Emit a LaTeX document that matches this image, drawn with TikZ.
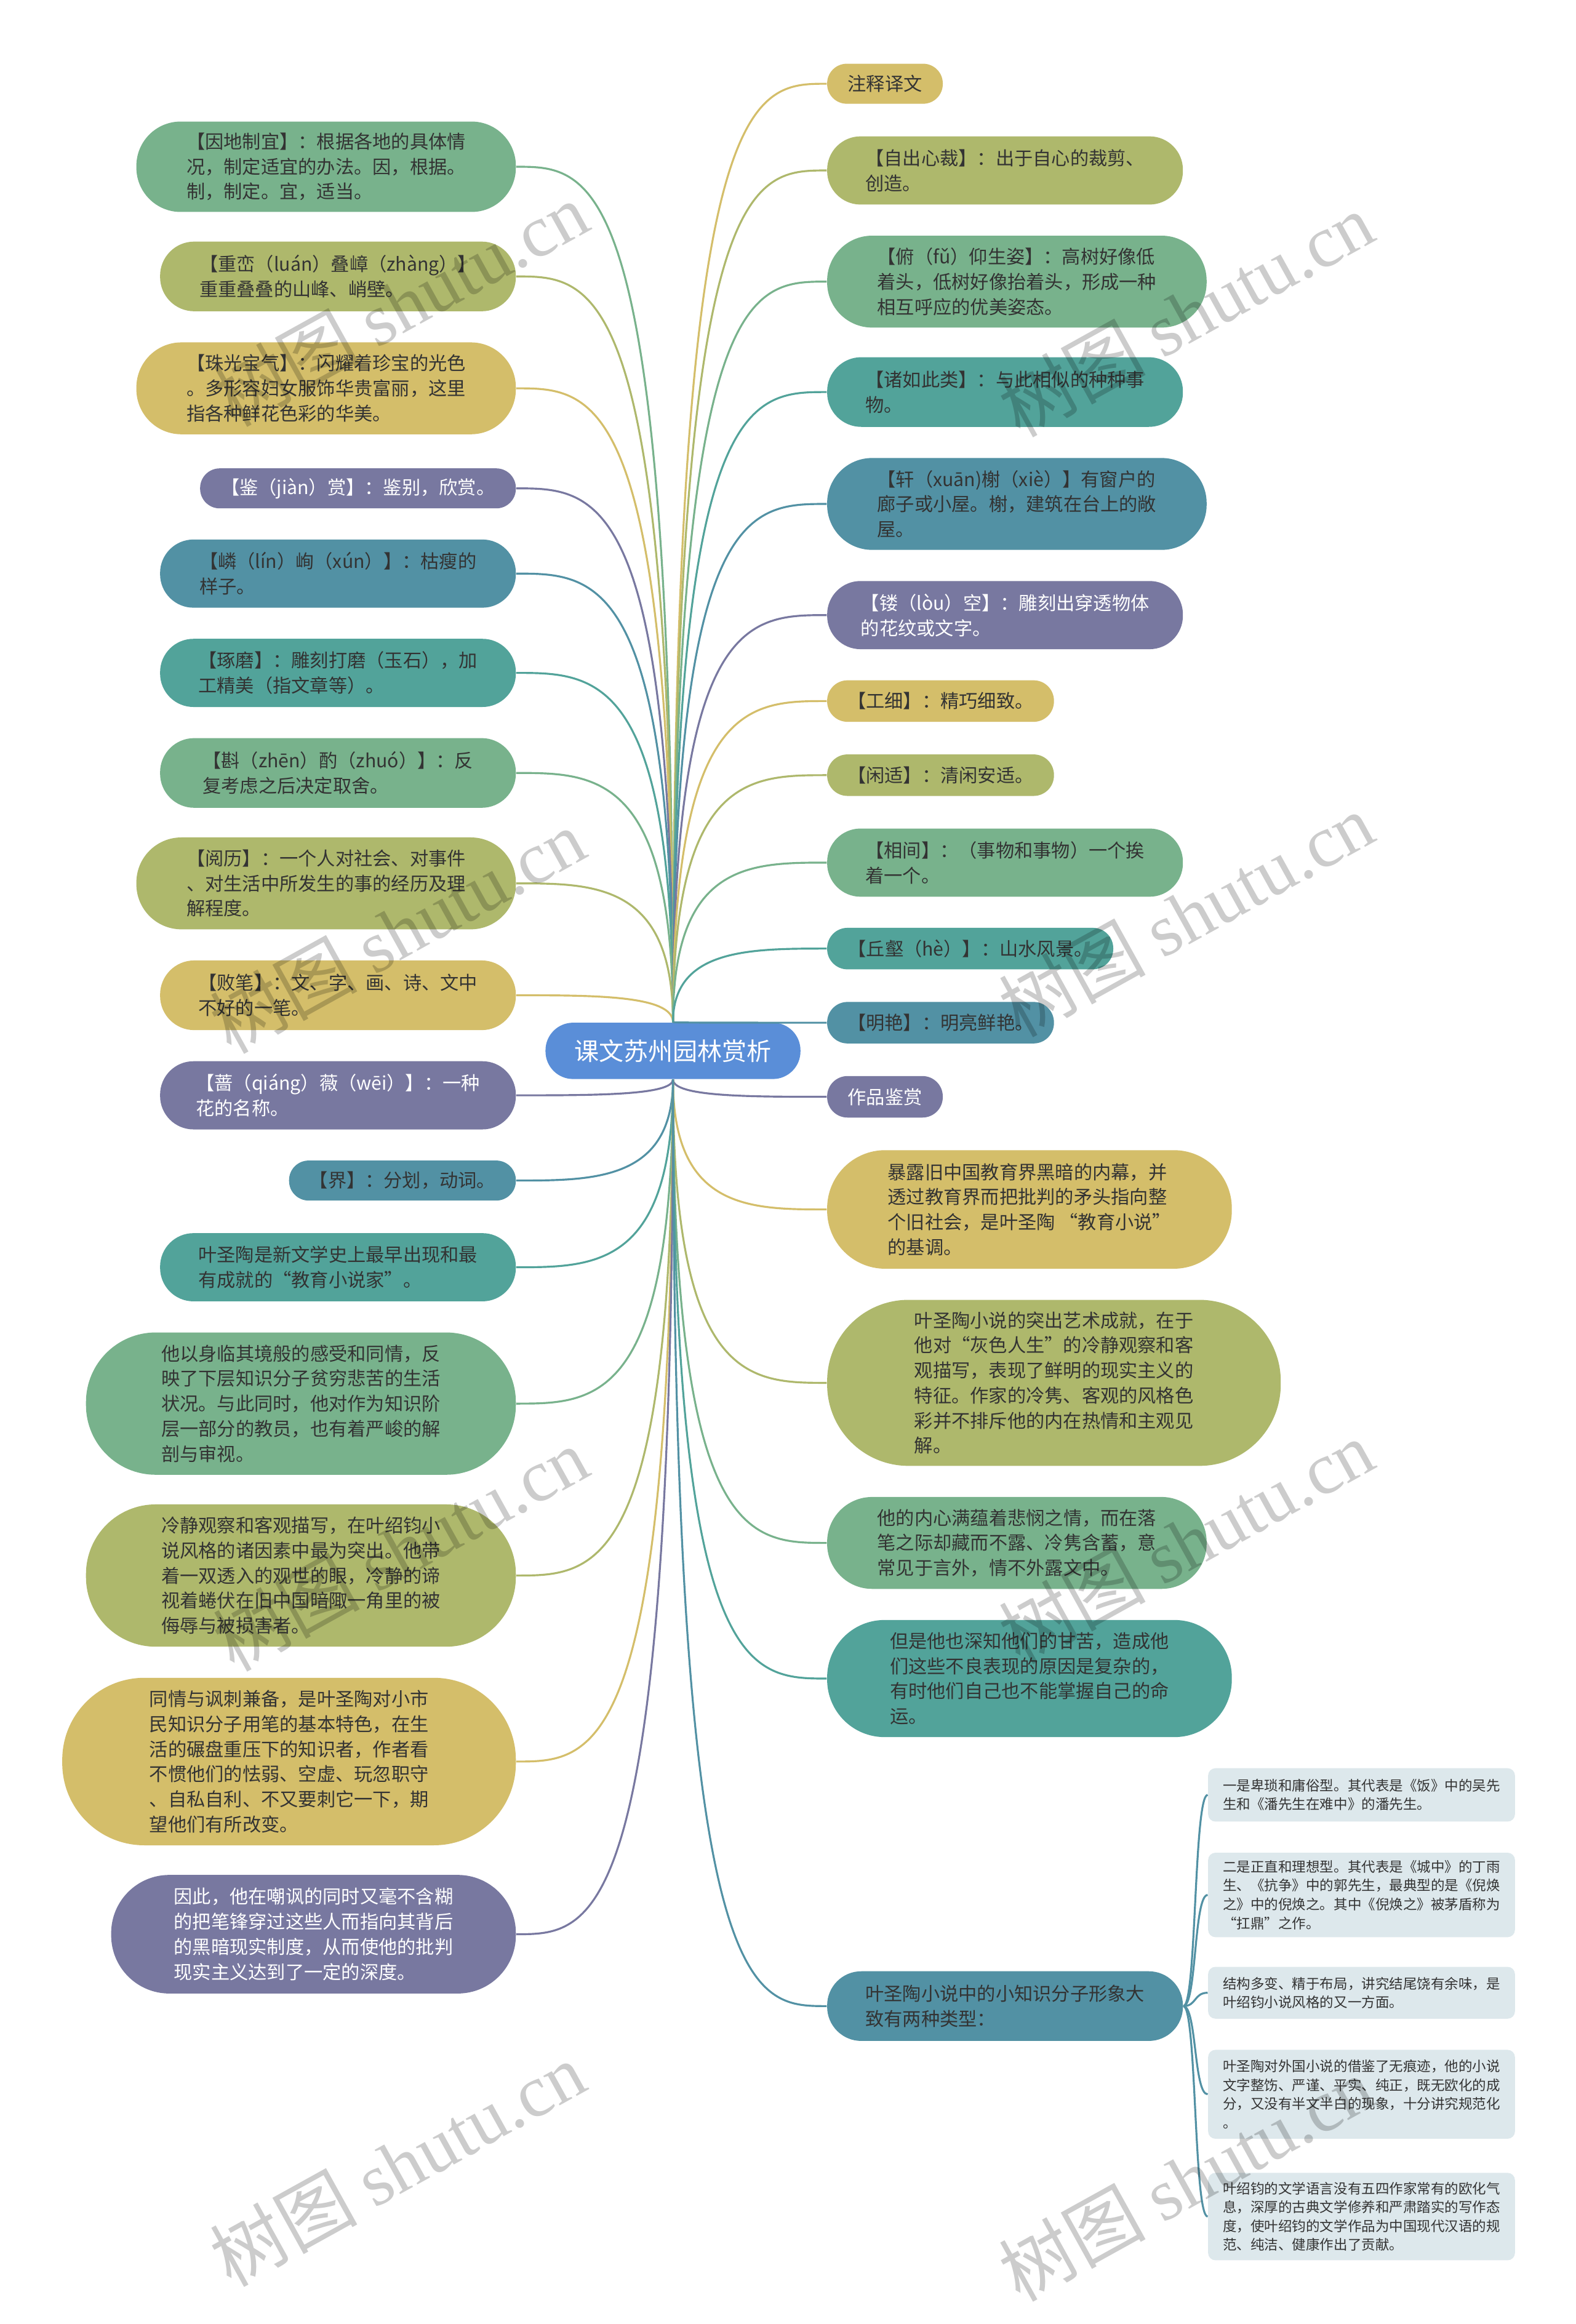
\documentclass[tikz,border=0pt]{standalone}
\usepackage{fontspec}
\setmainfont{Noto Sans CJK SC}
\newfontfamily\wmlatin{Liberation Serif}
\usetikzlibrary{calc}
\definecolor{cgreen}{HTML}{78B28C}
\definecolor{colive}{HTML}{AEB86C}
\definecolor{cyellow}{HTML}{D4BE6A}
\definecolor{cpurple}{HTML}{7878A0}
\definecolor{cblue}{HTML}{5291A4}
\definecolor{cteal}{HTML}{52A39A}
\definecolor{csub}{HTML}{DDE8EC}
\definecolor{ccenter}{HTML}{5A8ED8}
\definecolor{ctext}{HTML}{333333}
\tikzset{
  pillbox/.style={inner sep=0pt, align=left, font=\fontsize{8.6pt}{11.6pt}\selectfont},
  subbox/.style={inner sep=0pt, align=left, fill=csub, text=ctext, rounded corners=0.12cm, font=\fontsize{6.4pt}{8.7pt}\selectfont},
  link/.style={line width=0.9pt},
  wmark/.style={font=\fontsize{34pt}{34pt}\selectfont, text=black, text opacity=0.2, rotate=29}
}
\newcommand{\pill}[8]{%
  \pgfmathsetmacro{\pcx}{(#2+#4)/2}%
  \pgfmathsetmacro{\pcy}{(#3+#5)/2}%
  \pgfmathsetmacro{\pw}{(#4-#2)*0.024083}%
  \pgfmathsetmacro{\ph}{(#5-#3)*0.024083}%
  \pgfmathsetmacro{\pr}{\ph/2*0.98}%
  \node[pillbox, fill=#6, text=#7, minimum width=\pw cm, minimum height=\ph cm, rounded corners=\pr cm] (#1) at (\pcx,\pcy) {#8};%
}
\newcommand{\subn}[6]{%
  \pgfmathsetmacro{\pcx}{(#2+#4)/2}%
  \pgfmathsetmacro{\pcy}{(#3+#5)/2}%
  \pgfmathsetmacro{\pw}{(#4-#2)*0.024083}%
  \pgfmathsetmacro{\ph}{(#5-#3)*0.024083}%
  \node[subbox, minimum width=\pw cm, minimum height=\ph cm] (#1) at (\pcx,\pcy) {#6};%
}
\newcommand{\linkUL}[2]{\draw[link,#2] (ctr.north) .. controls (ctr.north |- #1.east) and ($(ctr.north |- #1.east)!0.5!(#1.east)$) .. (#1.east);}
\newcommand{\linkUR}[2]{\draw[link,#2] (ctr.north) .. controls (ctr.north |- #1.west) and ($(ctr.north |- #1.west)!0.5!(#1.west)$) .. (#1.west);}
\newcommand{\linkDL}[2]{\draw[link,#2] (ctr.south) .. controls (ctr.south |- #1.east) and ($(ctr.south |- #1.east)!0.5!(#1.east)$) .. (#1.east);}
\newcommand{\linkDR}[2]{\draw[link,#2] (ctr.south) .. controls (ctr.south |- #1.west) and ($(ctr.south |- #1.west)!0.5!(#1.west)$) .. (#1.west);}
\newcommand{\linkS}[1]{\draw[link,cblue] (R17.east) .. controls ($(R17.east)+(9,0)$) and ($(R17.east |- #1.west)+(7,0)$) .. (#1.west);}
\begin{document}
\begin{tikzpicture}[x=0.024083cm, y=-0.024083cm]
\fill[white] (0,0) rectangle (1063,1568);
\useasboundingbox (0,0) rectangle (1063,1568);

% centre
\pill{ctr}{368}{690}{540}{728}{ccenter}{white}{\fontsize{11.4pt}{13pt}\selectfont 课文苏州园林赏析}

% left column
\pill{L1}{92}{82}{348}{143}{cgreen}{ctext}{【因地制宜】：根据各地的具体情\\况，制定适宜的办法。因，根据。\\制，制定。宜，适当。}
\pill{L2}{108}{163}{348}{210}{colive}{ctext}{【重峦（luán）叠嶂（zhàng）】\\重重叠叠的山峰、峭壁。}
\pill{L3}{92}{231}{348}{293}{cyellow}{ctext}{【珠光宝气】：闪耀着珍宝的光色\\。多形容妇女服饰华贵富丽，这里\\指各种鲜花色彩的华美。}
\pill{L4}{135}{316}{348}{343}{cpurple}{white}{【鉴（jiàn）赏】：鉴别，欣赏。}
\pill{L5}{108}{364}{348}{410}{cblue}{ctext}{【嶙（lín）峋（xún）】：枯瘦的\\样子。}
\pill{L6}{108}{431}{348}{477}{cteal}{ctext}{【琢磨】：雕刻打磨（玉石），加\\工精美（指文章等）。}
\pill{L7}{108}{498}{348}{545}{cgreen}{ctext}{【斟（zhēn）酌（zhuó）】：反\\复考虑之后决定取舍。}
\pill{L8}{92}{565}{348}{627}{colive}{ctext}{【阅历】：一个人对社会、对事件\\、对生活中所发生的事的经历及理\\解程度。}
\pill{L9}{108}{648}{348}{695}{cyellow}{ctext}{【败笔】：文、字、画、诗、文中\\不好的一笔。}
\pill{L10}{108}{716}{348}{762}{cpurple}{white}{【蔷（qiáng）薇（wēi）】：一种\\花的名称。}
\pill{L11}{195}{783}{348}{810}{cblue}{ctext}{【界】：分划，动词。}
\pill{L12}{108}{832}{348}{878}{cteal}{ctext}{叶圣陶是新文学史上最早出现和最\\有成就的“教育小说家”。}
\pill{L13}{58}{899}{348}{995}{cgreen}{ctext}{他以身临其境般的感受和同情，反\\映了下层知识分子贫穷悲苦的生活\\状况。与此同时，他对作为知识阶\\层一部分的教员，也有着严峻的解\\剖与审视。}
\pill{L14}{58}{1015}{348}{1111}{colive}{ctext}{冷静观察和客观描写，在叶绍钧小\\说风格的诸因素中最为突出。他带\\着一双透入的观世的眼，冷静的谛\\视着蜷伏在旧中国暗陬一角里的被\\侮辱与被损害者。}
\pill{L15}{42}{1132}{348}{1245}{cyellow}{ctext}{同情与讽刺兼备，是叶圣陶对小市\\民知识分子用笔的基本特色，在生\\活的碾盘重压下的知识者，作者看\\不惯他们的怯弱、空虚、玩忽职守\\、自私自利、不又要刺它一下，期\\望他们有所改变。}
\pill{L16}{75}{1265}{348}{1345}{cpurple}{white}{因此，他在嘲讽的同时又毫不含糊\\的把笔锋穿过这些人而指向其背后\\的黑暗现实制度，从而使他的批判\\现实主义达到了一定的深度。}

% right column
\pill{R1}{558}{43}{636}{70}{cyellow}{ctext}{注释译文}
\pill{R2}{558}{92}{798}{138}{colive}{ctext}{【自出心裁】：出于自心的裁剪、\\创造。}
\pill{R3}{558}{159}{814}{221}{cgreen}{ctext}{【俯（fǔ）仰生姿】：高树好像低\\着头，低树好像抬着头，形成一种\\相互呼应的优美姿态。}
\pill{R4}{558}{241}{798}{288}{cteal}{ctext}{【诸如此类】：与此相似的种种事\\物。}
\pill{R5}{558}{309}{814}{371}{cblue}{ctext}{【轩（xuān)榭（xiè）】有窗户的\\廊子或小屋。榭，建筑在台上的敞\\屋。}
\pill{R6}{558}{392}{798}{438}{cpurple}{white}{【镂（lòu）空】：雕刻出穿透物体\\的花纹或文字。}
\pill{R7}{558}{459}{711}{487}{cyellow}{ctext}{【工细】：精巧细致。}
\pill{R8}{558}{509}{711}{537}{colive}{ctext}{【闲适】：清闲安适。}
\pill{R9}{558}{559}{798}{605}{cgreen}{ctext}{【相间】：（事物和事物）一个挨\\着一个。}
\pill{R10}{558}{626}{751}{654}{cteal}{ctext}{【丘壑（hè）】：山水风景。}
\pill{R11}{558}{676}{711}{704}{cblue}{ctext}{【明艳】：明亮鲜艳。}
\pill{R12}{558}{726}{636}{754}{cpurple}{white}{作品鉴赏}
\pill{R13}{558}{776}{831}{856}{cyellow}{ctext}{暴露旧中国教育界黑暗的内幕，并\\透过教育界而把批判的矛头指向整\\个旧社会，是叶圣陶 “教育小说”\\的基调。}
\pill{R14}{558}{877}{864}{989}{colive}{ctext}{叶圣陶小说的突出艺术成就，在于\\他对“灰色人生”的冷静观察和客\\观描写，表现了鲜明的现实主义的\\特征。作家的冷隽、客观的风格色\\彩并不排斥他的内在热情和主观见\\解。}
\pill{R15}{558}{1010}{814}{1072}{cgreen}{ctext}{他的内心满蕴着悲悯之情，而在落\\笔之际却藏而不露、冷隽含蓄，意\\常见于言外，情不外露文中。}
\pill{R16}{558}{1093}{831}{1172}{cteal}{ctext}{但是他也深知他们的甘苦，造成他\\们这些不良表现的原因是复杂的，\\有时他们自己也不能掌握自己的命\\运。}
\pill{R17}{558}{1330}{798}{1377}{cblue}{ctext}{叶圣陶小说中的小知识分子形象大\\致有两种类型：}

% sub nodes
\subn{S1}{815}{1193}{1022}{1229}{一是卑琐和庸俗型。其代表是《饭》中的吴先\\生和《潘先生在难中》的潘先生。}
\subn{S2}{815}{1250}{1022}{1307}{二是正直和理想型。其代表是《城中》的丁雨\\生、《抗争》中的郭先生，最典型的是《倪焕\\之》中的倪焕之。其中《倪焕之》被茅盾称为\\“扛鼎”之作。}
\subn{S3}{815}{1327}{1022}{1362}{结构多变、精于布局，讲究结尾饶有余味，是\\叶绍钧小说风格的又一方面。}
\subn{S4}{815}{1383}{1022}{1443}{叶圣陶对外国小说的借鉴了无痕迹，他的小说\\文字整饬、严谨、平实、纯正，既无欧化的成\\分，又没有半文半白的现象，十分讲究规范化\\。}
\subn{S5}{815}{1466}{1022}{1525}{叶绍钧的文学语言没有五四作家常有的欧化气\\息，深厚的古典文学修养和严肃踏实的写作态\\度，使叶绍钧的文学作品为中国现代汉语的规\\范、纯洁、健康作出了贡献。}

% connectors
\linkUL{L1}{cgreen}
\linkUL{L2}{colive}
\linkUL{L3}{cyellow}
\linkUL{L4}{cpurple}
\linkUL{L5}{cblue}
\linkUL{L6}{cteal}
\linkUL{L7}{cgreen}
\linkUL{L8}{colive}
\linkUL{L9}{cyellow}
\linkDL{L10}{cpurple}
\linkDL{L11}{cblue}
\linkDL{L12}{cteal}
\linkDL{L13}{cgreen}
\linkDL{L14}{colive}
\linkDL{L15}{cyellow}
\linkDL{L16}{cpurple}
\linkUR{R1}{cyellow}
\linkUR{R2}{colive}
\linkUR{R3}{cgreen}
\linkUR{R4}{cteal}
\linkUR{R5}{cblue}
\linkUR{R6}{cpurple}
\linkUR{R7}{cyellow}
\linkUR{R8}{colive}
\linkUR{R9}{cgreen}
\linkUR{R10}{cteal}
\linkUR{R11}{cblue}
\linkDR{R12}{cpurple}
\linkDR{R13}{cyellow}
\linkDR{R14}{colive}
\linkDR{R15}{cgreen}
\linkDR{R16}{cteal}
\linkDR{R17}{cblue}
\linkS{S1}
\linkS{S2}
\linkS{S3}
\linkS{S4}
\linkS{S5}

% watermarks
\node[wmark] (wm1) at (270,205) {树图 {\wmlatin shutu.cn}};
\node[wmark] (wm2) at (800,212) {树图 {\wmlatin shutu.cn}};
\node[wmark] (wm3) at (268,628) {树图 {\wmlatin shutu.cn}};
\node[wmark] (wm4) at (800,617) {树图 {\wmlatin shutu.cn}};
\node[wmark] (wm5) at (270,1045) {树图 {\wmlatin shutu.cn}};
\node[wmark] (wm6) at (800,1040) {树图 {\wmlatin shutu.cn}};
\node[wmark] (wm7) at (268,1460) {树图 {\wmlatin shutu.cn}};
\node[wmark] (wm8) at (800,1470) {树图 {\wmlatin shutu.cn}};
\end{tikzpicture}
\end{document}
